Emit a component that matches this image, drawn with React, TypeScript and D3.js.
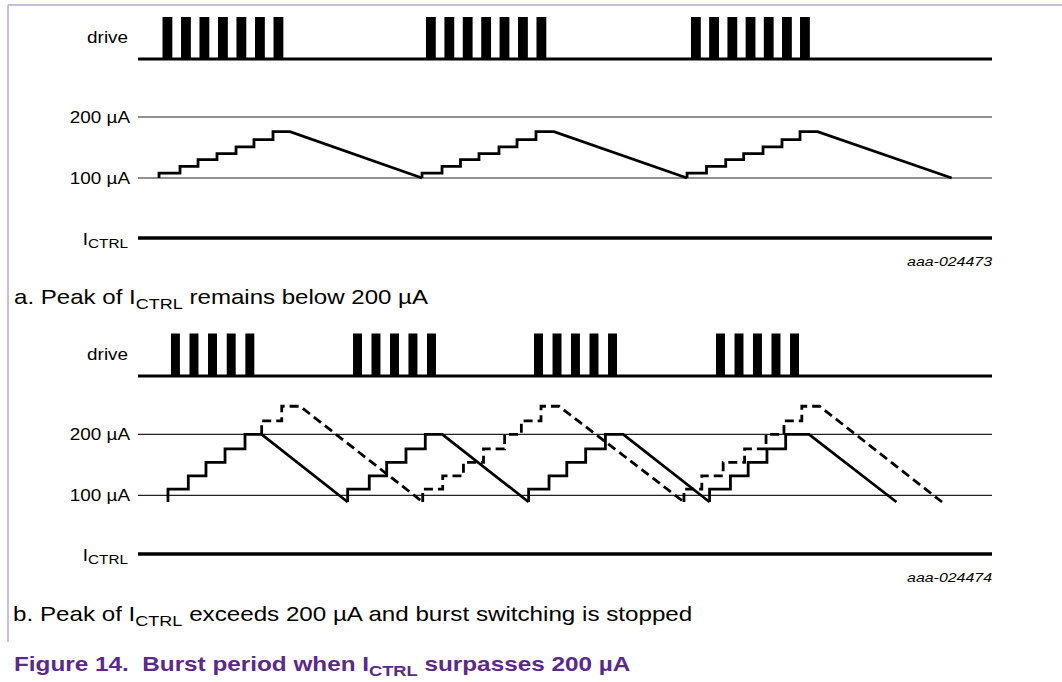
import React from "react";
import * as d3 from "d3";

const W = 1062;
const H = 682;

// time axis: 0..100 = % of the drawn time window
const burstsA: number[][] = [
  [2.87, 5.04, 7.2, 9.37, 11.53, 13.7, 15.87],
  [33.72, 35.88, 38.03, 40.19, 42.34, 44.5, 46.66],
  [64.75, 66.88, 69.02, 71.15, 73.28, 75.41, 77.52],
];
const pulseWidthA = 1.15;

const burstsB: number[][] = [
  [3.86, 6.03, 8.2, 10.39, 12.57],
  [25.18, 27.34, 29.51, 31.67, 33.84],
  [46.37, 48.54, 50.7, 52.87, 55.04],
  [67.68, 69.85, 72.01, 74.18, 76.35],
];
const pulseWidthB = 1.05;

// current ramps (µA)
const levelsA = [108, 119, 130, 140, 151, 163, 176];
const stepsA1 = [2.46, 4.92, 7.03, 9.25, 11.48, 13.58, 15.81];
const stepsA2 = [33.26, 35.6, 37.76, 39.93, 42.27, 44.38, 46.6];
const stepsA3 = [64.29, 66.57, 68.82, 70.92, 73.19, 75.41, 77.52];
const peakEndA = [17.8, 48.71, 79.58];
const endA = [33.26, 64.29, 95.28];

const levelsBSolid = [110, 132, 154, 176, 200];
const stepsB1 = [3.51, 5.89, 7.96, 10.19, 12.53];
const stepsB2 = [24.55, 27.08, 29.12, 31.38, 33.64];
const stepsB3 = [45.74, 48.13, 50.21, 52.42, 54.73];
const stepsB4 = [66.93, 69.37, 71.45, 73.65, 75.84];
const peakEndB = [14.48, 35.63, 56.82, 78.57];
const endB = [24.55, 45.74, 66.93, 88.81];

const levelsDash1 = [222, 246];
const stepsDash1 = [14.48, 16.83];
const levelsDash = [110, 132, 154, 176, 200, 222, 246];
const stepsDash2 = [33.34, 35.68, 38.11, 40.46, 42.93, 44.89, 47.19];
const stepsDash3 = [63.93, 66.02, 68.52, 71.03, 73.54, 75.64, 77.73];
const peakEndDash = [18.97, 49.3, 79.81];
const endDash = [33.34, 63.93, 94.15];

const yTicks = [200, 100];
const tickLabels = ["200 µA", "100 µA"];

interface Ramp {
  startLevel: number;
  steps: number[];
  levels: number[];
  peakEnd: number;
  end: number;
  endLevel: number;
}

const rampsA: Ramp[] = [stepsA1, stepsA2, stepsA3].map((s, i) => ({
  startLevel: 100,
  steps: s,
  levels: levelsA,
  peakEnd: peakEndA[i],
  end: endA[i],
  endLevel: 100,
}));
const rampsBSolid: Ramp[] = [stepsB1, stepsB2, stepsB3, stepsB4].map((s, i) => ({
  startLevel: 89,
  steps: s,
  levels: levelsBSolid,
  peakEnd: peakEndB[i],
  end: endB[i],
  endLevel: 89,
}));
const rampsBDash: Ramp[] = [
  { startLevel: 200, steps: stepsDash1, levels: levelsDash1, peakEnd: peakEndDash[0], end: endDash[0], endLevel: 89 },
  { startLevel: 89, steps: stepsDash2, levels: levelsDash, peakEnd: peakEndDash[1], end: endDash[1], endLevel: 89 },
  { startLevel: 89, steps: stepsDash3, levels: levelsDash, peakEnd: peakEndDash[2], end: endDash[2], endLevel: 89 },
];

const x = d3.scaleLinear().domain([0, 100]).range([138, 992]);
const yA = d3.scaleLinear().domain([100, 200]).range([178, 117]);
const yB = d3.scaleLinear().domain([100, 200]).range([495.3, 434.3]);
const driveA = d3.scaleLinear().domain([0, 1]).range([59, 17]);
const driveB = d3.scaleLinear().domain([0, 1]).range([376, 333.5]);

function rampPoints(r: Ramp): [number, number][] {
  const pts: [number, number][] = [[r.steps[0], r.startLevel]];
  r.steps.forEach((t, i) => {
    const prev = i === 0 ? r.startLevel : r.levels[i - 1];
    pts.push([t, prev]);
    pts.push([t, r.levels[i]]);
  });
  pts.push([r.peakEnd, r.levels[r.levels.length - 1]]);
  pts.push([r.end, r.endLevel]);
  return pts;
}

const FONT = "'Liberation Sans', Arial, sans-serif";
const SX = 1.18;

function Label({ xr, yb, children, size = 16, anchor = "end", style = "normal", weight = "normal", fill = "#000" }: any) {
  return (
    <g transform={`translate(${xr},${yb}) scale(${SX},1)`}>
      <text
        x={0}
        y={0}
        textAnchor={anchor}
        fontFamily={FONT}
        fontSize={size}
        fontStyle={style}
        fontWeight={weight}
        fill={fill}
      >
        {children}
      </text>
    </g>
  );
}

function Panel({
  bursts,
  pw,
  drive,
  y,
  axisY,
  solid,
  dashed,
  idLabel,
}: {
  bursts: number[][];
  pw: number;
  drive: d3.ScaleLinear<number, number>;
  y: d3.ScaleLinear<number, number>;
  axisY: number;
  solid: Ramp[];
  dashed: Ramp[];
  idLabel: string;
}) {
  const line = d3
    .line<[number, number]>()
    .x((d) => x(d[0]))
    .y((d) => y(d[1]));
  const [x0, x1] = x.range();
  return (
    <g>
      {/* drive */}
      <Label xr={128} yb={drive(0) - 16}>drive</Label>
      {bursts.flat().map((t, i) => (
        <rect
          key={i}
          x={x(t)}
          y={drive(1)}
          width={x(t + pw) - x(t)}
          height={drive(0) - drive(1)}
          fill="#000"
        />
      ))}
      <line x1={x0} x2={x1} y1={drive(0)} y2={drive(0)} stroke="#000" strokeWidth={3} />
      {/* reference levels */}
      {yTicks.map((v, i) => (
        <g key={v}>
          <line x1={x0} x2={x1} y1={y(v)} y2={y(v)} stroke="#222" strokeWidth={1.2} />
          <Label xr={130} yb={y(v) + 6}>{tickLabels[i]}</Label>
        </g>
      ))}
      {dashed.map((r, i) => (
        <path
          key={"d" + i}
          d={line(rampPoints(r)) || ""}
          fill="none"
          stroke="#000"
          strokeWidth={2.8}
          strokeDasharray="9,5"
        />
      ))}
      {solid.map((r, i) => (
        <path
          key={"s" + i}
          d={line(rampPoints(r)) || ""}
          fill="none"
          stroke="#000"
          strokeWidth={2.8}
          strokeLinejoin="miter"
        />
      ))}
      {/* ICTRL axis */}
      <line x1={x0} x2={x1} y1={axisY} y2={axisY} stroke="#000" strokeWidth={3.5} />
      <Label xr={128} yb={axisY + 7}>
        I<tspan fontSize={13} dy={3}>CTRL</tspan>
      </Label>
      <Label xr={992} yb={axisY + 28} size={13.5} style="italic" anchor="end">
        {idLabel}
      </Label>
    </g>
  );
}

export default function App() {
  return (
    <svg
      width={W}
      height={H}
      viewBox={`0 0 ${W} ${H}`}
      style={{ position: "absolute", left: 0, top: 0, background: "#fff" }}
    >
      <rect x={0} y={0} width={W} height={H} fill="#fff" />
      <line x1={8} x2={W} y1={5} y2={5} stroke="#b9a7d2" strokeWidth={1.5} />
      <line x1={8} x2={8} y1={5} y2={642} stroke="#b9a7d2" strokeWidth={1.5} />

      <Panel
        bursts={burstsA}
        pw={pulseWidthA}
        drive={driveA}
        y={yA}
        axisY={238}
        solid={rampsA}
        dashed={[]}
        idLabel="aaa-024473"
      />
      <Label xr={14} yb={304} size={20.4} anchor="start">
        a. Peak of I<tspan fontSize={15.3} dy={5}>CTRL</tspan>
        <tspan dy={-5}> remains below 200 µA</tspan>
      </Label>

      <Panel
        bursts={burstsB}
        pw={pulseWidthB}
        drive={driveB}
        y={yB}
        axisY={554}
        solid={rampsBSolid}
        dashed={rampsBDash}
        idLabel="aaa-024474"
      />
      <Label xr={13} yb={621} size={20.5} anchor="start">
        b. Peak of I<tspan fontSize={15.3} dy={5}>CTRL</tspan>
        <tspan dy={-5}> exceeds 200 µA and burst switching is stopped</tspan>
      </Label>

      <Label xr={14} yb={671} size={20.6} anchor="start" weight="bold" fill="#5a2a8a">
        Figure 14.{"\u00a0 "}Burst period when I<tspan fontSize={15.5} dy={5}>CTRL</tspan>
        <tspan dy={-5}> surpasses 200 µA</tspan>
      </Label>
    </svg>
  );
}
